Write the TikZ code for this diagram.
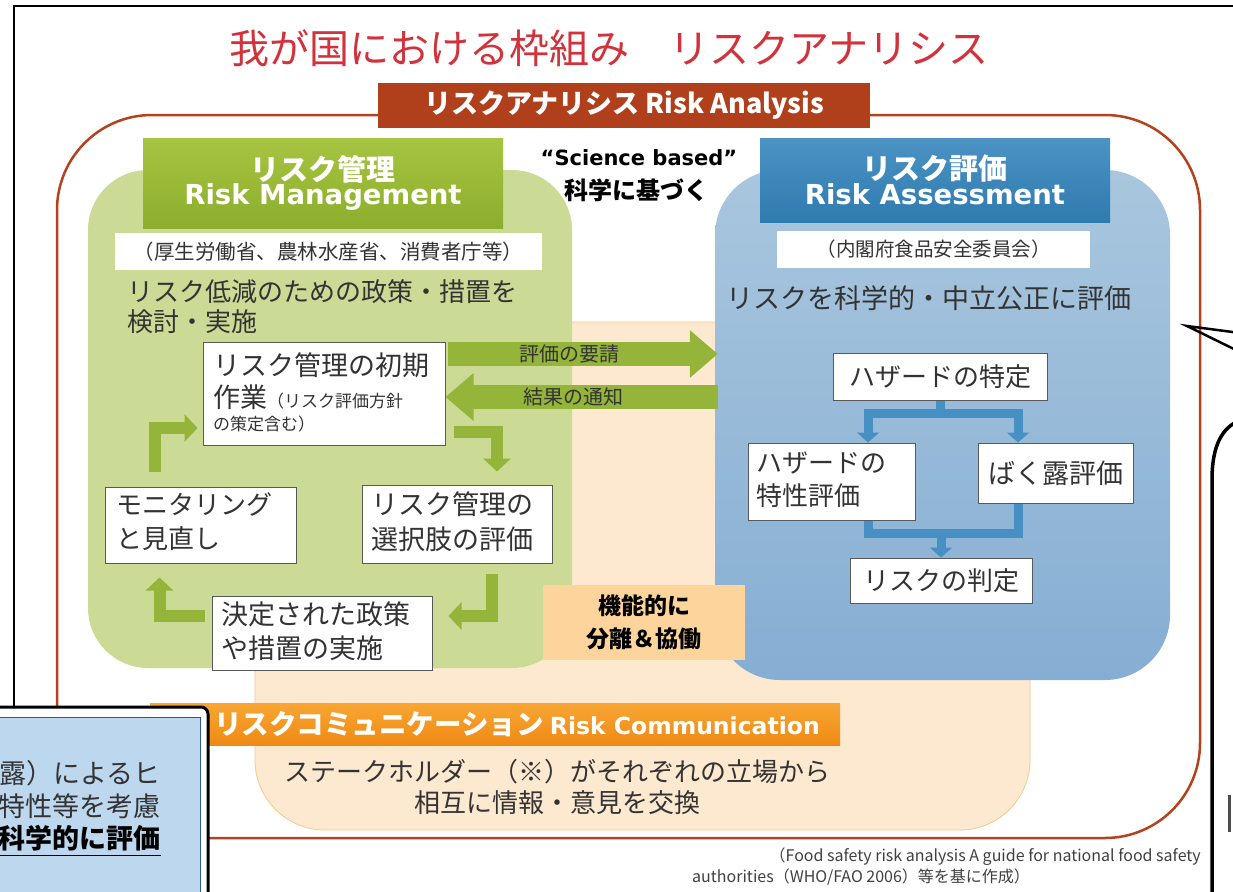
\documentclass[tikz,border=0pt]{standalone}
\usepackage{fontspec}
\setmainfont{Noto Sans CJK JP}
\newfontfamily\dv{DejaVu Sans}
\usetikzlibrary{arrows.meta,calc}
\newcommand\fsz[2]{\fontsize{#1}{#2}\selectfont}
\definecolor{titlered}{HTML}{D2323C}
\definecolor{raborder}{HTML}{B5421E}
\definecolor{rahead}{HTML}{B0401C}
\definecolor{peach}{HTML}{FDE9D0}
\definecolor{peachedge}{HTML}{F6C88E}
\definecolor{greenbg}{HTML}{CBDB96}
\definecolor{greenhdtop}{HTML}{A6C442}
\definecolor{greenhdbot}{HTML}{8CAE2C}
\definecolor{greenarrow}{HTML}{95B43A}
\definecolor{bluebgtop}{HTML}{A9C6DE}
\definecolor{bluebgbot}{HTML}{86AED3}
\definecolor{bluehdtop}{HTML}{4B93C3}
\definecolor{bluehdbot}{HTML}{2F7AB0}
\definecolor{bluearrow}{HTML}{4690C3}
\definecolor{orangetop}{HTML}{F8A635}
\definecolor{orangebot}{HTML}{EF8A12}
\definecolor{fnbox}{HTML}{FCD49C}
\definecolor{notebg}{HTML}{BDD7EE}
\definecolor{noteedge}{HTML}{2F5A86}
\definecolor{txt}{HTML}{333333}
\tikzset{
  whitebox/.style={draw=black!65, line width=1pt, fill=white, inner sep=0pt},
  bluecon/.style={draw=bluearrow, line width=9pt},
  bluetip/.style={-{Triangle[length=10pt,width=22pt]}},
  bigarr/.style={draw=greenarrow, line width=24pt, -{Triangle[length=28pt,width=46pt]}},
  smallarr/.style={draw=greenarrow, line width=12pt, -{Triangle[length=13pt,width=27pt]}},
  lbl/.style={text=txt, anchor=west, inner sep=0pt},
  ctr/.style={text=txt, inner sep=0pt},
}
\begin{document}
\begin{tikzpicture}[x=1pt,y=-1pt]
\useasboundingbox (0,0) rectangle (1233,891);
\clip (0,0) rectangle (1233,891);
\fill[white] (0,0) rectangle (1233,891);
% outer black frame
\draw[line width=2.5pt] (14,900) -- (14,6) -- (1240,6);
% title
\node[text=titlered, inner sep=0pt] (title) at (609,48) {\fsz{40}{48}我が国における枠組み　リスクアナリシス};
% red outline
\node[draw=raborder, line width=2.5pt, rounded corners=95pt, minimum width=1143pt, minimum height=723pt, inner sep=0pt] (raout) at (628.5,476.5) {};
% peach risk communication region
\node[fill=peach, draw=peachedge, line width=0.8pt, rounded corners=70pt, minimum width=775pt, minimum height=508pt, inner sep=0pt] (rc) at (642.5,576) {};
% green region
\node[fill=greenbg, rounded corners=60pt, minimum width=484pt, minimum height=498pt, inner sep=0pt] (rm) at (330,419) {};
% blue region
\node[top color=bluebgtop, bottom color=bluebgbot, rounded corners=65pt, minimum width=455pt, minimum height=510pt, inner sep=0pt] (ra) at (942.5,425) {};
% RA header
\node[fill=rahead, text=white, minimum width=492pt, minimum height=45pt, inner sep=0pt] (rah) at (624,105.5) {\bfseries\fsz{27}{32}リスクアナリシス Risk Analysis};
% headers
\node[top color=greenhdtop, bottom color=greenhdbot, text=white, minimum width=360pt, minimum height=90pt, inner sep=0pt, align=center] (rmh) at (323,183) {{\bfseries\fsz{29}{36}リスク管理}\\[0pt]{\dv\bfseries\fsz{27.5}{32}Risk Management}};
\node[top color=bluehdtop, bottom color=bluehdbot, text=white, minimum width=350pt, minimum height=84pt, inner sep=0pt, align=center] (rah2) at (935,180) {{\bfseries\fsz{29}{36}リスク評価}\\[0pt]{\dv\bfseries\fsz{27.5}{32}Risk Assessment}};
\node[text=black, inner sep=0pt] (sci1) at (639,158) {\dv\bfseries\fsz{21}{25}“Science based”};
\node[text=black, inner sep=0pt] (sci2) at (636,190) {\bfseries\fsz{24}{28}科学に基づく};
% org labels
\node[fill=white, text=txt, minimum width=427pt, minimum height=37pt, inner sep=0pt] (rmorg) at (328.5,251.5) {\fsz{20.5}{24}（厚生労働省、農林水産省、消費者庁等）};
\node[fill=white, text=txt, minimum width=313pt, minimum height=37pt, inner sep=0pt] (raorg) at (933.5,249.5) {\fsz{19.5}{24}（内閣府食品安全委員会）};
% descriptions
\node[lbl] (rmd1) at (127,292) {\fsz{26}{30}リスク低減のための政策・措置を};
\node[lbl] (rmd2) at (127,322) {\fsz{26}{30}検討・実施};
\node[lbl] (rad1) at (726,298) {\fsz{27}{30}リスクを科学的・中立公正に評価};
% management boxes
\node[whitebox, minimum width=242pt, minimum height=103pt] (init) at (324,393.5) {};
\node[lbl] (init1) at (213,365) {\fsz{27}{30}リスク管理の初期};
\node[lbl] (init2) at (213,397) {\fsz{27}{30}作業{\fsz{17}{20}（リスク評価方針}};
\node[lbl] (init3) at (213,424) {\fsz{17}{20}の策定含む）};
\node[whitebox, minimum width=191pt, minimum height=76pt] (mon) at (200.5,525) {};
\node[lbl] (mon1) at (116,504) {\fsz{26}{30}モニタリング};
\node[lbl] (mon2) at (116,539) {\fsz{26}{30}と見直し};
\node[whitebox, minimum width=190pt, minimum height=78pt] (opt) at (457,524) {};
\node[lbl] (opt1) at (371,504) {\fsz{27}{30}リスク管理の};
\node[lbl] (opt2) at (371,539) {\fsz{27}{30}選択肢の評価};
\node[whitebox, minimum width=220pt, minimum height=74pt] (imp) at (322,633) {};
\node[lbl] (imp1) at (221,614) {\fsz{27}{30}決定された政策};
\node[lbl] (imp2) at (221,648) {\fsz{27}{30}や措置の実施};
% small bent arrows
\draw[smallarr] ($(mon.north west)+(50,-15)$) |- ($(init.west)+(-5,34.5)$);
\draw[smallarr] ($(init.south east)+(8,-14)$) -| ($(opt.north)+(40,-13)$);
\draw[smallarr] ($(opt.south)+(35,10)$) |- ($(imp.east)+(16,-17)$);
\draw[smallarr] ($(imp.west)+(-7,-17)$) -| ($(mon.south west)+(55,14)$);
% big arrows
\coordinate (reqy) at (600,354);
\coordinate (noty) at (600,397);
\draw[bigarr] ($(init.east |- reqy)+(2,0)$) -- ($(ra.west |- reqy)+(3,0)$) node[pos=0.45, ctr] (reqt) {\fsz{20}{24}評価の要請};
\draw[bigarr] ($(ra.west |- noty)+(3,0)$) -- ($(init.east |- noty)+(0,0)$) node[pos=0.53, ctr] (nott) {\fsz{20}{24}結果の通知};
% assessment boxes
\node[whitebox, minimum width=214pt, minimum height=47pt] (haz) at (940,376.5) {\fsz{26}{30}\color{txt}ハザードの特定};
\node[whitebox, minimum width=167pt, minimum height=77pt] (hchar) at (831.5,481.5) {};
\node[lbl] (hc1) at (756,463) {\fsz{26}{30}ハザードの};
\node[lbl] (hc2) at (756,496) {\fsz{26}{30}特性評価};
\node[whitebox, minimum width=155pt, minimum height=60pt] (expo) at (1055.5,473) {\fsz{27}{30}\color{txt}ばく露評価};
\node[whitebox, minimum width=182pt, minimum height=45pt] (risk) at (941,580.5) {\fsz{26}{30}\color{txt}リスクの判定};
\coordinate (hl) at (868,413);
\coordinate (hr) at (1018,413);
\coordinate (bl) at (868,533);
\coordinate (br) at (1018,533);
\draw[bluecon, bluetip] (haz.south) |- (hl) -- (hl |- hchar.north);
\draw[bluecon, bluetip] (haz.south) |- (hr) -- (hr |- expo.north);
\draw[bluecon] (hchar.south -| bl) -- (bl) -- (br) -- (expo.south -| br);
\draw[bluecon, bluetip] (risk.north |- bl) -- (risk.north);
% functional separation
\node[fill=fnbox, text=black, minimum width=202pt, minimum height=75pt, inner sep=0pt, align=center, font=\bfseries\fsz{23}{33}] (func) at (644,622.5) {機能的に\\分離＆協働};
% risk communication header and text
\node[top color=orangetop, bottom color=orangebot, text=white, minimum width=690pt, minimum height=42pt, inner sep=0pt] (rch) at (495,724) {};
\node[text=white, anchor=west, inner sep=0pt] (rcht) at (214,724) {\bfseries\fsz{27.5}{30}リスクコミュニケーション {\dv\bfseries\fsz{23.5}{28}Risk Communication}};
\node[ctr] (rc1) at (557,772) {\fsz{26}{30}ステークホルダー（※）がそれぞれの立場から};
\node[ctr] (rc2) at (557,803) {\fsz{26}{30}相互に情報・意見を交換};
% footnote
\node[anchor=east, text=black!75, inner sep=0pt] (fn1) at (1201,857) {\fsz{16}{19}（Food safety risk analysis A guide for national food safety};
\node[anchor=west, text=black!75, inner sep=0pt] (fn2) at (692,877) {\fsz{16}{19}authorities（WHO/FAO 2006）等を基に作成）};
% note box bottom-left
\node[draw=black, line width=3pt, fill=white, rounded corners=7pt, minimum width=240pt, minimum height=200pt, inner sep=0pt] (noteout) at (88,807) {};
\node[draw=noteedge, line width=1pt, fill=notebg, minimum width=230pt, minimum height=190pt, inner sep=0pt] (note) at (85,812) {};
\node[anchor=east, text=txt, inner sep=0pt] (n1) at (161,773) {\fsz{27}{30}露）によるヒ};
\node[anchor=east, text=txt, inner sep=0pt] (n2) at (161,806) {\fsz{27}{30}特性等を考慮};
\node[anchor=east, text=black, inner sep=0pt] (n3) at (161,838) {\bfseries\fsz{27}{30}科学的に評価};
\draw[line width=1.2pt] (n3.south west) ++(0,4) -- ($(n3.south east)+(0,4)$);
% right callout
\draw[line width=3.5pt] (1212,900) -- (1212,480) .. controls (1212,445) and (1222,428) .. (1240,420);
\draw[line width=2.5pt] (1240,333) -- (1187,326) -- (1240,352);
\draw[line width=3pt, black!70] (1229,795) -- (1229,832);
\end{tikzpicture}
\end{document}
